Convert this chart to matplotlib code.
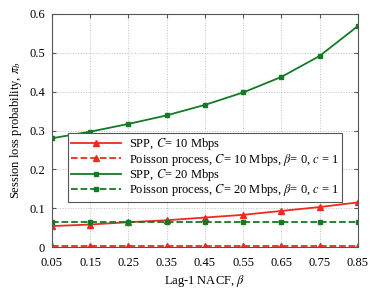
import numpy as np
import matplotlib.pyplot as plt

plt.rcParams["font.family"] = ["Liberation Serif", "DejaVu Serif"]
plt.rcParams["mathtext.fontset"] = "stix"

beta = [0.05, 0.15, 0.25, 0.35, 0.45, 0.55, 0.65, 0.75, 0.85]
spp_10 = [0.054, 0.058, 0.064, 0.069, 0.076, 0.083, 0.093, 0.103, 0.115]
poisson_10 = [0.002] * 9
spp_20 = [0.280, 0.297, 0.317, 0.339, 0.366, 0.398, 0.438, 0.492, 0.569]
poisson_20 = [0.065] * 9

red = "#ee2a1f"
green = "#137a25"

fig = plt.figure(figsize=(3.74, 2.91), dpi=100)
ax = fig.add_axes([0.139, 0.151, 0.818, 0.801])

ax.plot(beta, spp_10, "-", color=red, marker="^", ms=4, lw=1.3,
        label="SPP, $C$= 10 Mbps")
ax.plot(beta, poisson_10, "--", color=red, marker="^", ms=4, lw=1.3,
        label=r"Poisson process, $C$= 10 Mbps, $\beta$= 0, $c$ = 1")
ax.plot(beta, spp_20, "-", color=green, marker="s", ms=3.5, lw=1.3,
        label="SPP, $C$= 20 Mbps")
ax.plot(beta, poisson_20, "--", color=green, marker="s", ms=3.5, lw=1.3,
        label=r"Poisson process, $C$= 20 Mbps, $\beta$= 0, $c$ = 1")

ax.set_xlim(0.05, 0.85)
ax.set_ylim(0, 0.6)
ax.set_xticks(beta)
ax.set_xticklabels([f"{b:.2f}" for b in beta])
ax.set_yticks([0, 0.1, 0.2, 0.3, 0.4, 0.5, 0.6])
ax.set_yticklabels(["0", "0.1", "0.2", "0.3", "0.4", "0.5", "0.6"])
ax.tick_params(direction="in", labelsize=9, length=3, top=True, right=True,
               color="#555555")
ax.tick_params(axis="x", pad=7)
ax.tick_params(axis="y", pad=5)
ax.grid(True, linestyle=":", color="#c0c0c0", lw=0.7)
for s in ax.spines.values():
    s.set_color("#555555")

ax.set_xlabel(r"Lag-1 NACF, $\beta$", fontsize=9, labelpad=3)
ax.set_ylabel(r"Session loss probability, $\pi_b$", fontsize=9)

leg = ax.legend(loc="lower left", bbox_to_anchor=(0.052, 0.195), fontsize=9,
                fancybox=False, framealpha=1, edgecolor="#555555",
                handlelength=4.0, borderpad=0.25, labelspacing=-0.05,
                handletextpad=0.6, borderaxespad=0)
leg.get_frame().set_linewidth(0.8)

fig.savefig("out.png", dpi=100)
